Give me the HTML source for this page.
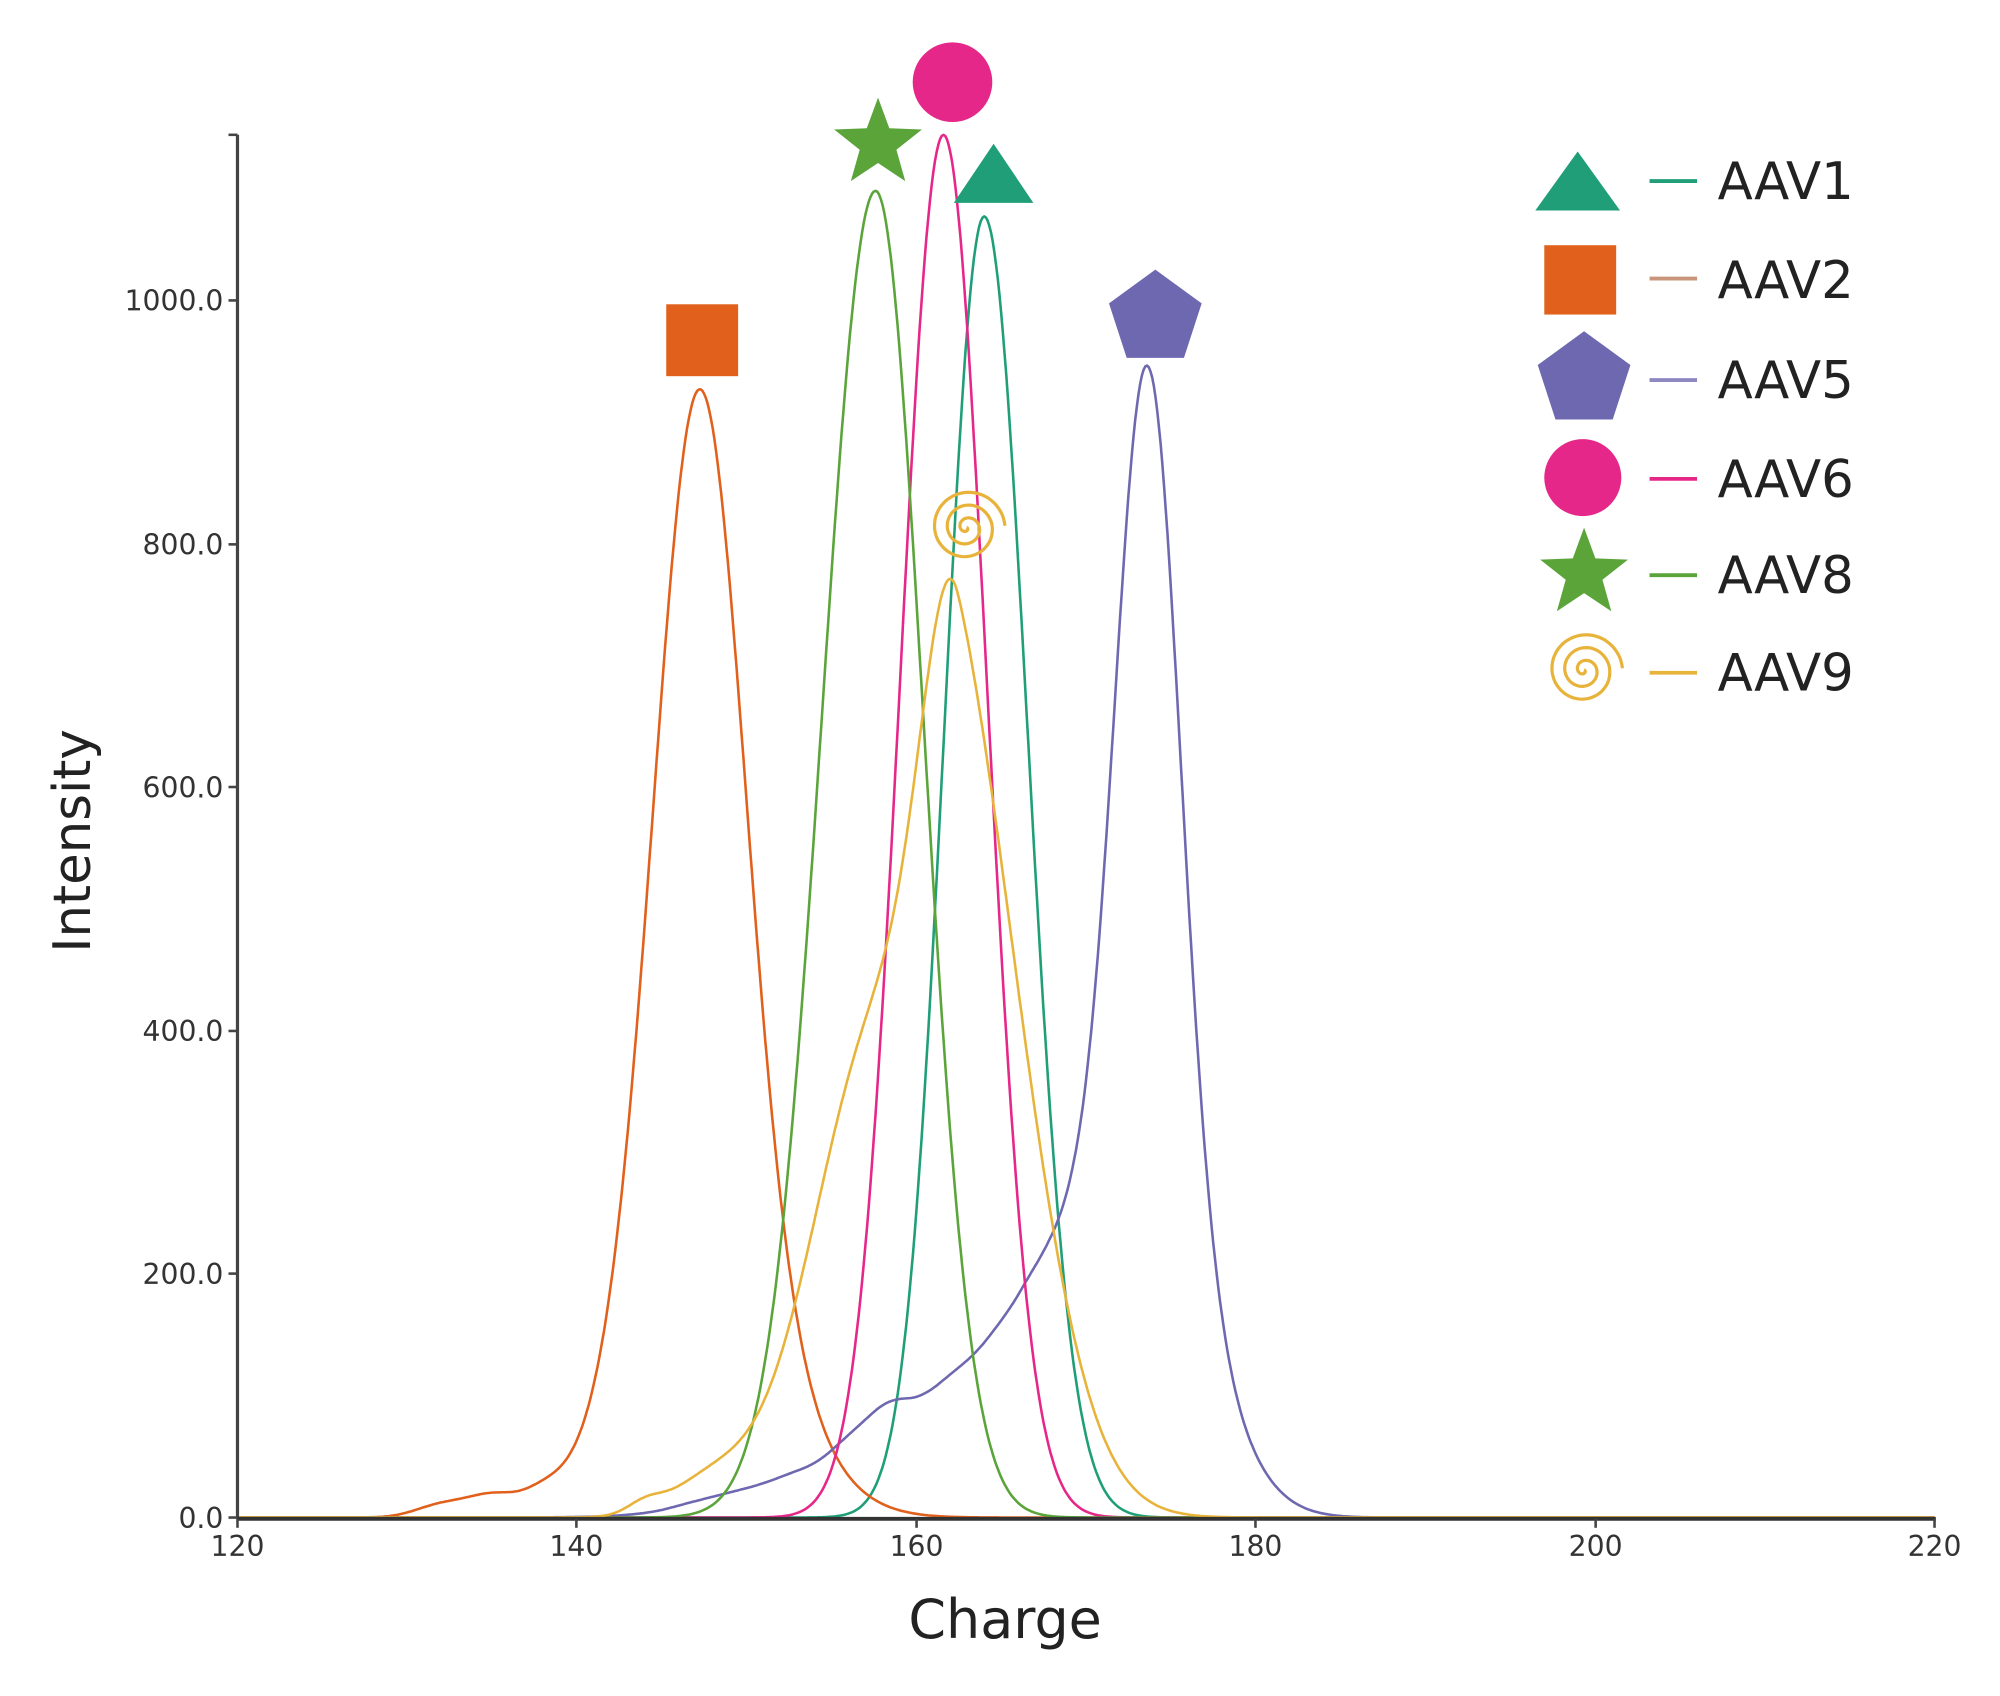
<!DOCTYPE html>
<html><head><meta charset="utf-8"><style>
html,body{margin:0;padding:0;background:#fff;}
svg{display:block;}
text{font-family:"DejaVu Sans","Liberation Sans",sans-serif;}
</style></head><body>
<svg id="s" width="2000" height="1696" viewBox="0 0 1558 1321" preserveAspectRatio="none" xmlns="http://www.w3.org/2000/svg">
<rect width="1558" height="1321" fill="#fff"/>
<g id="curves" fill="none" stroke-width="2"></g>
<line x1="185" y1="105" x2="185" y2="1183" stroke="#444" stroke-width="2.5"/>
<line x1="178" y1="105" x2="185" y2="105" stroke="#444" stroke-width="2"/>
<line x1="185" y1="1183" x2="1508" y2="1183" stroke="#333" stroke-width="3"/>
<g stroke="#444" stroke-width="2">
<line x1="178" y1="234" x2="185" y2="234"/><line x1="178" y1="424" x2="185" y2="424"/>
<line x1="178" y1="613" x2="185" y2="613"/><line x1="178" y1="803" x2="185" y2="803"/>
<line x1="178" y1="992" x2="185" y2="992"/><line x1="178" y1="1182" x2="185" y2="1182"/>
<line x1="185" y1="1183" x2="185" y2="1190"/><line x1="449" y1="1183" x2="449" y2="1190"/>
<line x1="714" y1="1183" x2="714" y2="1190"/><line x1="978" y1="1183" x2="978" y2="1190"/>
<line x1="1243" y1="1183" x2="1243" y2="1190"/><line x1="1507" y1="1183" x2="1507" y2="1190"/>
</g>
<g font-size="22" fill="#333" text-anchor="end">
<text x="174" y="242">1000.0</text><text x="174" y="432">800.0</text>
<text x="174" y="621">600.0</text><text x="174" y="811">400.0</text>
<text x="174" y="1000">200.0</text><text x="174" y="1190">0.0</text>
</g>
<g font-size="22" fill="#333" text-anchor="middle">
<text x="185" y="1212">120</text><text x="449" y="1212">140</text><text x="714" y="1212">160</text>
<text x="978" y="1212">180</text><text x="1243" y="1212">200</text><text x="1507" y="1212">220</text>
</g>
<text x="783" y="1276" font-size="42" fill="#222" text-anchor="middle">Charge</text>
<text transform="translate(70,655) rotate(-90)" font-size="40" fill="#222" text-anchor="middle">Intensity</text>
<rect x="519" y="237" width="56" height="56" fill="#e0601c"/>
<polygon id="star1" fill="#5aa43a"/>
<circle cx="742" cy="64" r="31" fill="#e6278a"/>
<polygon points="774,112 743,158 805,158" fill="#1f9e77"/>
<polygon id="pent1" fill="#6e68b0"/>
<path id="spir1" fill="none" stroke="#e8b33a" stroke-width="2.5"/>
<polygon points="1229,118 1196,164 1262,164" fill="#1f9e77"/>
<rect x="1203" y="191" width="56" height="54" fill="#e0601c"/>
<polygon id="pent2" fill="#6e68b0"/>
<circle cx="1233" cy="372" r="30" fill="#e6278a"/>
<polygon id="star2" fill="#5aa43a"/>
<path id="spir2" fill="none" stroke="#e8b33a" stroke-width="2.5"/>
<g stroke-width="3">
<line x1="1285" y1="141" x2="1322" y2="141" stroke="#1f9e77"/>
<line x1="1285" y1="217" x2="1322" y2="217" stroke="#c8957a"/>
<line x1="1285" y1="296" x2="1322" y2="296" stroke="#8e88c0"/>
<line x1="1285" y1="373" x2="1322" y2="373" stroke="#e6278a"/>
<line x1="1285" y1="448" x2="1322" y2="448" stroke="#5aa43a"/>
<line x1="1285" y1="524" x2="1322" y2="524" stroke="#e8b33a"/>
</g>
<g font-size="40" fill="#222">
<text x="1338" y="155">AAV1</text><text x="1338" y="232">AAV2</text>
<text x="1338" y="310">AAV5</text><text x="1338" y="387">AAV6</text>
<text x="1338" y="462">AAV8</text><text x="1338" y="538">AAV9</text>
</g>
</svg>
<script>
function X(c){return 185+(c-120)*13.22;}
function Y(v){return 1182-v*0.948;}
function g(x,m,a,s){return a*Math.exp(-0.5*Math.pow((x-m)/s,2));}
function ag(x,m,a,sl,sr){return g(x,m,a,x<m?sl:sr);}
function interp(x,t){if(x<=t[0][0])return t[0][1]*Math.exp((x-t[0][0])/2);for(var i=1;i<t.length;i++){if(x<=t[i][0]){var f=(x-t[i-1][0])/(t[i][0]-t[i-1][0]);return t[i-1][1]+f*(t[i][1]-t[i-1][1]);}}return 0;}
var ptail=[[146,10],[150.8,27],[154.2,45],[156.8,78],[158.4,98],[159.5,97],[160.5,100],[162.1,118],[163.4,130],[165,150],[167,165],[168.7,140],[170,90],[171.5,30],[173,0]];
function ptailS(x){var s=0;for(var k=-4;k<=4;k++)s+=interp(x+k*0.2,ptail);return s/9;}
var series=[
 ["#1f9e77",function(x){return ag(x,164.0,1069,2.35,2.55);}],
 ["#e0601c",function(x){return g(x,147.2,690,2.6)+g(x,147.6,238,4.2)+g(x,135,16,1.5)+g(x,132,10,1.5)+g(x,138,10,1.2);}],
 ["#6e68b0",function(x){return g(x,173.6,680,1.9)+g(x,173.6,266,3.5)+ptailS(x);}],
 ["#e6278a",function(x){return g(x,161.6,1136,2.55);}],
 ["#5aa43a",function(x){return ag(x,157.6,1090,3.15,2.8);}],
 ["#e8b33a",function(x){return ag(x,162.5,570,2.1,4.1)+g(x,157.8,400,3.8)+g(x,148,30,2.5)+g(x,144,8,1);}]
];
var G=document.getElementById('curves'),ns="http://www.w3.org/2000/svg";
series.forEach(function(s){var d="";for(var c=120;c<=220;c+=0.1){d+=(d?"L":"M")+X(c).toFixed(1)+","+Y(s[1](c)).toFixed(1);}
var p=document.createElementNS(ns,"path");p.setAttribute("d",d);p.setAttribute("stroke",s[0]);G.appendChild(p);});
function star(cx,cy,R,r){var p=[];for(var i=0;i<10;i++){var a=-Math.PI/2+i*Math.PI/5,rr=i%2?r:R;p.push((cx+rr*Math.cos(a)).toFixed(1)+","+(cy+rr*Math.sin(a)).toFixed(1));}return p.join(" ");}
function poly(cx,cy,R,n){var p=[];for(var i=0;i<n;i++){var a=-Math.PI/2+i*2*Math.PI/n;p.push((cx+R*Math.cos(a)).toFixed(1)+","+(cy+R*Math.sin(a)).toFixed(1));}return p.join(" ");}
function spiral(cx,cy,R){var d="";for(var t=0;t<=6*Math.PI;t+=0.1){var r=R*t/(6*Math.PI);d+=(d?"L":"M")+(cx+r*Math.cos(t)).toFixed(1)+","+(cy+r*Math.sin(t)).toFixed(1);}return d;}
document.getElementById('star1').setAttribute("points",star(684,112,36,15));
document.getElementById('star2').setAttribute("points",star(1234,447,36,15));
document.getElementById('pent1').setAttribute("points",poly(900,248,38,5));
document.getElementById('pent2').setAttribute("points",poly(1234,296,38,5));
document.getElementById('spir1').setAttribute("d",spiral(753,411,30));
document.getElementById('spir2').setAttribute("d",spiral(1234,522,30));
</script>
</body></html>
